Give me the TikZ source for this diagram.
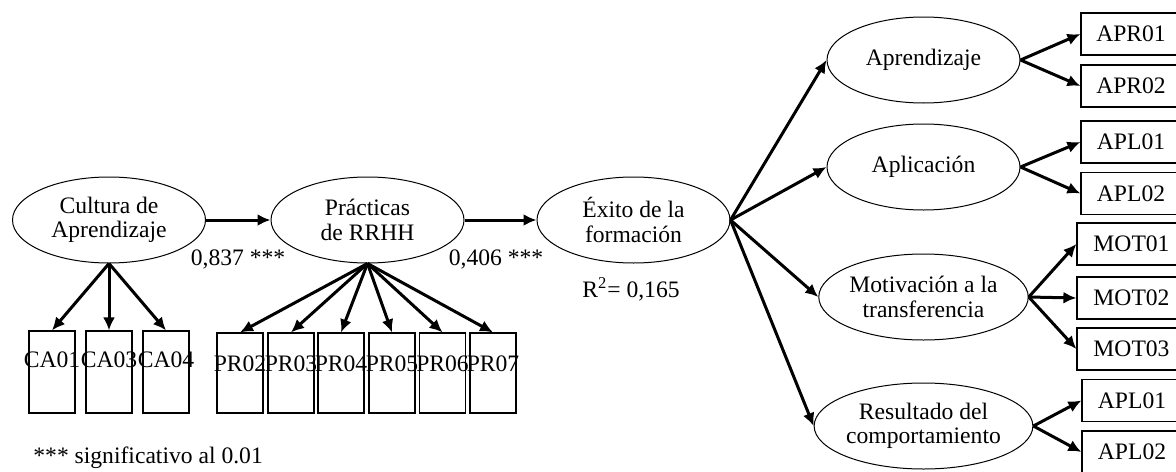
\documentclass[tikz,border=0pt]{standalone}
\usepackage{fontspec}
\setmainfont{Liberation Serif}
\usetikzlibrary{shapes.geometric,arrows.meta}

\begin{document}
\begin{tikzpicture}[x=0.5pt,y=-0.5pt,
	every node/.style={font=\fontsize{11.8}{12.3}\selectfont},
	latent/.style={ellipse,draw,line width=0.5pt,minimum width=96.5pt,minimum height=43pt,inner sep=0pt,align=center},
	item/.style={draw,line width=0.6pt,minimum width=23pt,inner sep=0pt},
	itembox/.style={draw,line width=0.6pt,minimum width=50pt,minimum height=21pt,inner sep=0pt},
	link/.style={line width=1.5pt,-{Latex[length=6.5pt,width=6pt]}}]
					\useasboundingbox (0,0) rectangle (1176,471);

					\coordinate (lc) at (109,220);
					\coordinate (lp) at (367.5,220);
					\coordinate (le) at (633.5,220);
					\coordinate (la) at (923.5,60);
					\coordinate (lb) at (923.5,167);
					\coordinate (lm) at (923.5,297);
					\coordinate (lr) at (923.5,426);

					\node (cult) at (lc) [latent] {Cultura de\\Aprendizaje};
					\node (prac) at (lp) [latent] {Prácticas\\de RRHH};
					\node (exito) at (le) [latent] {Éxito de la\\formación};
					\node (apre) at (la) [latent] {Aprendizaje};
					\node (apli) at (lb) [latent] {Aplicación};
					\node (moti) at (lm) [latent] {Motivación a la\\transferencia};
					\node (resu) at (lr) [latent] {Resultado del\\comportamiento};

					\node (ca01) at (52,372) [item,minimum height=41pt] {};
					\node (ca03) at (109,372) [item,minimum height=41pt] {};
					\node (ca04) at (166,372) [item,minimum height=41pt] {};
					\node (ca01t) at (52,367) [anchor=base] {CA01};
					\node (ca03t) at (109,367) [anchor=base] {CA03};
					\node (ca04t) at (166,367) [anchor=base] {CA04};

					\node (pr02) at (240,373) [item,minimum height=40pt] {};
					\node (pr03) at (291,373) [item,minimum height=40pt] {};
					\node (pr04) at (341,373) [item,minimum height=40pt] {};
					\node (pr05) at (392,373) [item,minimum height=40pt] {};
					\node (pr06) at (442.5,373) [item,minimum height=40pt] {};
					\node (pr07) at (493,373) [item,minimum height=40pt] {};
					\node (pr02t) at (240,371.5) [anchor=base] {PR02};
					\node (pr03t) at (291,371.5) [anchor=base] {PR03};
					\node (pr04t) at (341,371.5) [anchor=base] {PR04};
					\node (pr05t) at (392,371.5) [anchor=base] {PR05};
					\node (pr06t) at (442.5,371.5) [anchor=base] {PR06};
					\node (pr07t) at (493,371.5) [anchor=base] {PR07};

					\node (apr01) at (1131,34) [itembox] {APR01};
					\node (apr02) at (1131,86) [itembox] {APR02};
					\node (apl01) at (1131,142) [itembox] {APL01};
					\node (apl02) at (1131,193.5) [itembox] {APL02};
					\node (mot01) at (1131.5,244) [itembox,minimum width=54.5pt] {MOT01};
					\node (mot02) at (1131.5,298) [itembox,minimum width=54.5pt] {MOT02};
					\node (mot03) at (1131.5,349) [itembox,minimum width=54.5pt] {MOT03};
					\node (res01) at (1132,400.5) [itembox] {APL01};
					\node (res02) at (1132,452) [itembox] {APL02};

					\node (b1) at (238,259) {0,837 ***};
					\node (b2) at (496,259) {0,406 ***};
					\node (r2) at (631,289) {R\textsuperscript{2}= 0,165};
					\node (note) at (33,463) [anchor=base west,inner sep=0pt] {*** significativo al 0.01};

					\draw[link] (cult) to (prac);
					\draw[link] (prac) to (exito);
					\draw[link] (exito.east) to (apre.west);
					\draw[link] (exito.east) to (apli.west);
					\draw[link] (exito.east) to (moti.west);
					\draw[link] (exito.east) to (resu.west);

					\draw[link] (cult.south) to (ca01.north);
					\draw[link] (cult.south) to (ca03.north);
					\draw[link] (cult.south) to (ca04.north);

					\draw[link] (prac.south) to (pr02.north);
					\draw[link] (prac.south) to (pr03.north);
					\draw[link] (prac.south) to (pr04.north);
					\draw[link] (prac.south) to (pr05.north);
					\draw[link] (prac.south) to (pr06.north);
					\draw[link] (prac.south) to (pr07.north);

					\draw[link] (apre.east) to (apr01.west);
					\draw[link] (apre.east) to (apr02.west);
					\draw[link] (apli.east) to (apl01.west);
					\draw[link] (apli.east) to (apl02.west);
					\draw[link] (moti.east) to (mot01.west);
					\draw[link] (moti.east) to (mot02.west);
					\draw[link] (moti.east) to (mot03.west);
					\draw[link] (resu.east) to (res01.west);
					\draw[link] (resu.east) to (res02.west);
				\end{tikzpicture}
\end{document}
